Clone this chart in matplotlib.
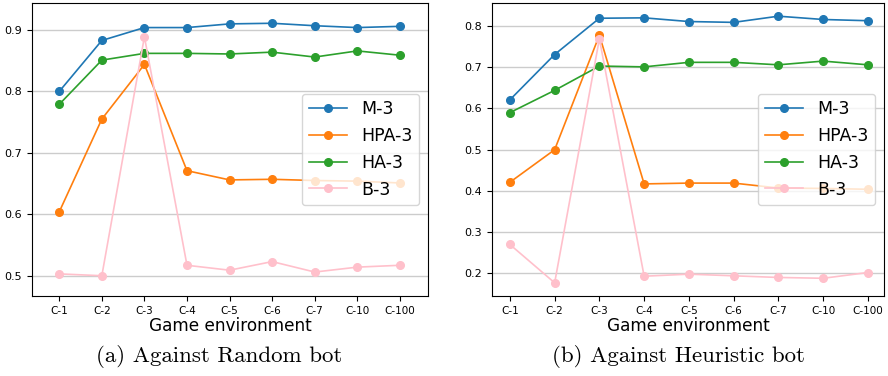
"""Win-rate comparison across game environments, two bot opponents."""

import matplotlib
matplotlib.use("Agg")
import matplotlib.pyplot as plt


ENVIRONMENTS = ["C-1", "C-2", "C-3", "C-4", "C-5", "C-6", "C-7", "C-10", "C-100"]
SERIES_NAMES = ["M-3", "HPA-3", "HA-3", "B-3"]
SERIES_COLORS = ["tab:blue", "tab:orange", "tab:green", "pink"]

# (a) against random bot
random_m3 = [0.800, 0.883, 0.904, 0.904, 0.910, 0.911, 0.907, 0.904, 0.906]
random_hpa3 = [0.604, 0.755, 0.844, 0.671, 0.656, 0.657, 0.655, 0.654, 0.651]
random_ha3 = [0.779, 0.851, 0.862, 0.862, 0.861, 0.864, 0.856, 0.866, 0.859]
random_b3 = [0.503, 0.500, 0.889, 0.517, 0.509, 0.523, 0.506, 0.514, 0.517]

# (b) against heuristic bot
heuristic_m3 = [0.621, 0.731, 0.819, 0.820, 0.811, 0.809, 0.824, 0.816, 0.813]
heuristic_hpa3 = [0.421, 0.500, 0.778, 0.417, 0.419, 0.419, 0.407, 0.406, 0.404]
heuristic_ha3 = [0.590, 0.644, 0.703, 0.701, 0.712, 0.712, 0.706, 0.715, 0.706]
heuristic_b3 = [0.270, 0.177, 0.769, 0.193, 0.198, 0.194, 0.190, 0.188, 0.202]


def draw_panel(axis, series, ylim, xlim):
    positions = list(range(len(ENVIRONMENTS)))
    for values, name, color in zip(series, SERIES_NAMES, SERIES_COLORS):
        axis.plot(positions, values, marker="o", markersize=5.5,
                  linewidth=1.2, color=color, label=name)
    axis.set_xticks(positions)
    axis.set_xticklabels(ENVIRONMENTS, fontsize=7.5)
    axis.tick_params(axis="y", labelsize=8)
    axis.set_xlabel("Game environment", fontsize=12.2, labelpad=1)
    axis.set_ylim(*ylim)
    axis.set_xlim(*xlim)
    axis.grid(axis="y", color="#cccccc", linewidth=1.0)
    axis.legend(loc="center right", fontsize=12.5, handlelength=2.2)


fig = plt.figure(figsize=(8.88, 3.76), dpi=100)
ax_left = fig.add_axes([32 / 888, 80 / 376, 396 / 888, 293 / 376])
ax_right = fig.add_axes([492 / 888, 80 / 376, 392 / 888, 293 / 376])

draw_panel(ax_left, [random_m3, random_hpa3, random_ha3, random_b3],
           (0.467, 0.944), (-0.64, 8.66))
draw_panel(ax_right, [heuristic_m3, heuristic_hpa3, heuristic_ha3, heuristic_b3],
           (0.145, 0.856), (-0.4, 8.36))

fig.text(219 / 888, 1 - 357 / 376, "(a) Against Random bot",
         ha="center", va="center", fontsize=16.5, family="cmr10")
fig.text(678 / 888, 1 - 357 / 376, "(b) Against Heuristic bot",
         ha="center", va="center", fontsize=16.5, family="cmr10")

fig.savefig("out.png", dpi=100)
